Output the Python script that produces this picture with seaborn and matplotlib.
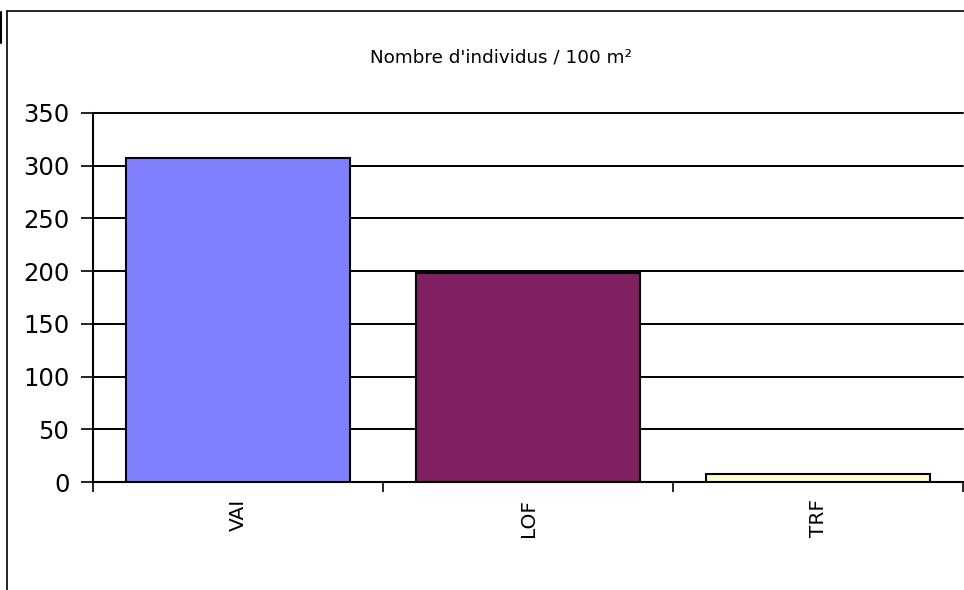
import matplotlib
matplotlib.use('Agg')
import matplotlib.pyplot as plt
from matplotlib.lines import Line2D
import seaborn as sns
import pandas as pd

sites = ['VAI', 'LOF', 'TRF']
individus = [307, 198, 8]
colors = ['#8080FF', '#802060', '#FFFFCC']
title = "Nombre d'individus / 100 m²"

sns.set_theme(style='white')
plt.rcParams['font.family'] = ['DejaVu Sans']
plt.rcParams['text.color'] = 'black'
plt.rcParams['xtick.color'] = 'black'
plt.rcParams['ytick.color'] = 'black'

df = pd.DataFrame({'site': sites, 'n': individus})

fig = plt.figure(figsize=(9.64, 5.90), dpi=100)
ax = fig.add_axes([93/964, (590-482)/590, 870/964, 369/590])

sns.barplot(data=df, x='site', y='n', hue='site', palette=colors,
            legend=False, width=0.775, edgecolor='black', linewidth=1.5,
            saturation=1, ax=ax, zorder=3)

ax.set_xlim(-0.5, 2.5)
ax.set_ylim(0, 350)
ax.set_yticks(range(0, 351, 50))
ax.yaxis.grid(True, color='black', lw=1.4, zorder=0)
for gl in ax.yaxis.get_gridlines():
    gl.set_clip_on(False)
ax.set_axisbelow(True)
ax.set_xlabel('')
ax.set_ylabel('')

ax.tick_params(axis='y', which='major', direction='out', length=9, width=1.2,
               labelsize=17.5, labelcolor='black', pad=8, left=True)
ax.tick_params(axis='x', which='major', length=0, pad=12, labelcolor='black')
ax.set_xticks([-0.5, 0.5, 1.5, 2.5], minor=True)
ax.tick_params(axis='x', which='minor', direction='out', length=7, width=1.2,
               bottom=True)
for lbl in ax.get_xticklabels():
    lbl.set_rotation(90)
    lbl.set_fontsize(14.5)
    lbl.set_va('top')

for s in ['top', 'right']:
    ax.spines[s].set_visible(False)
for s in ['left', 'bottom']:
    ax.spines[s].set_color('black')
    ax.spines[s].set_linewidth(1.5)

fig.text(501/964, 1 - 57/590, title, ha='center', va='center', fontsize=13.2)

# outer chart frame
fig.add_artist(Line2D([6.5/964, 6.5/964], [0, 1 - 11/590], color='black', lw=1.2))
fig.add_artist(Line2D([6.5/964, 1], [1 - 11/590, 1 - 11/590], color='black', lw=1.2))
fig.add_artist(Line2D([1/964, 1/964], [1 - 12/590, 1 - 43/590], color='black', lw=1.5))

fig.savefig('out.png', dpi=100)
